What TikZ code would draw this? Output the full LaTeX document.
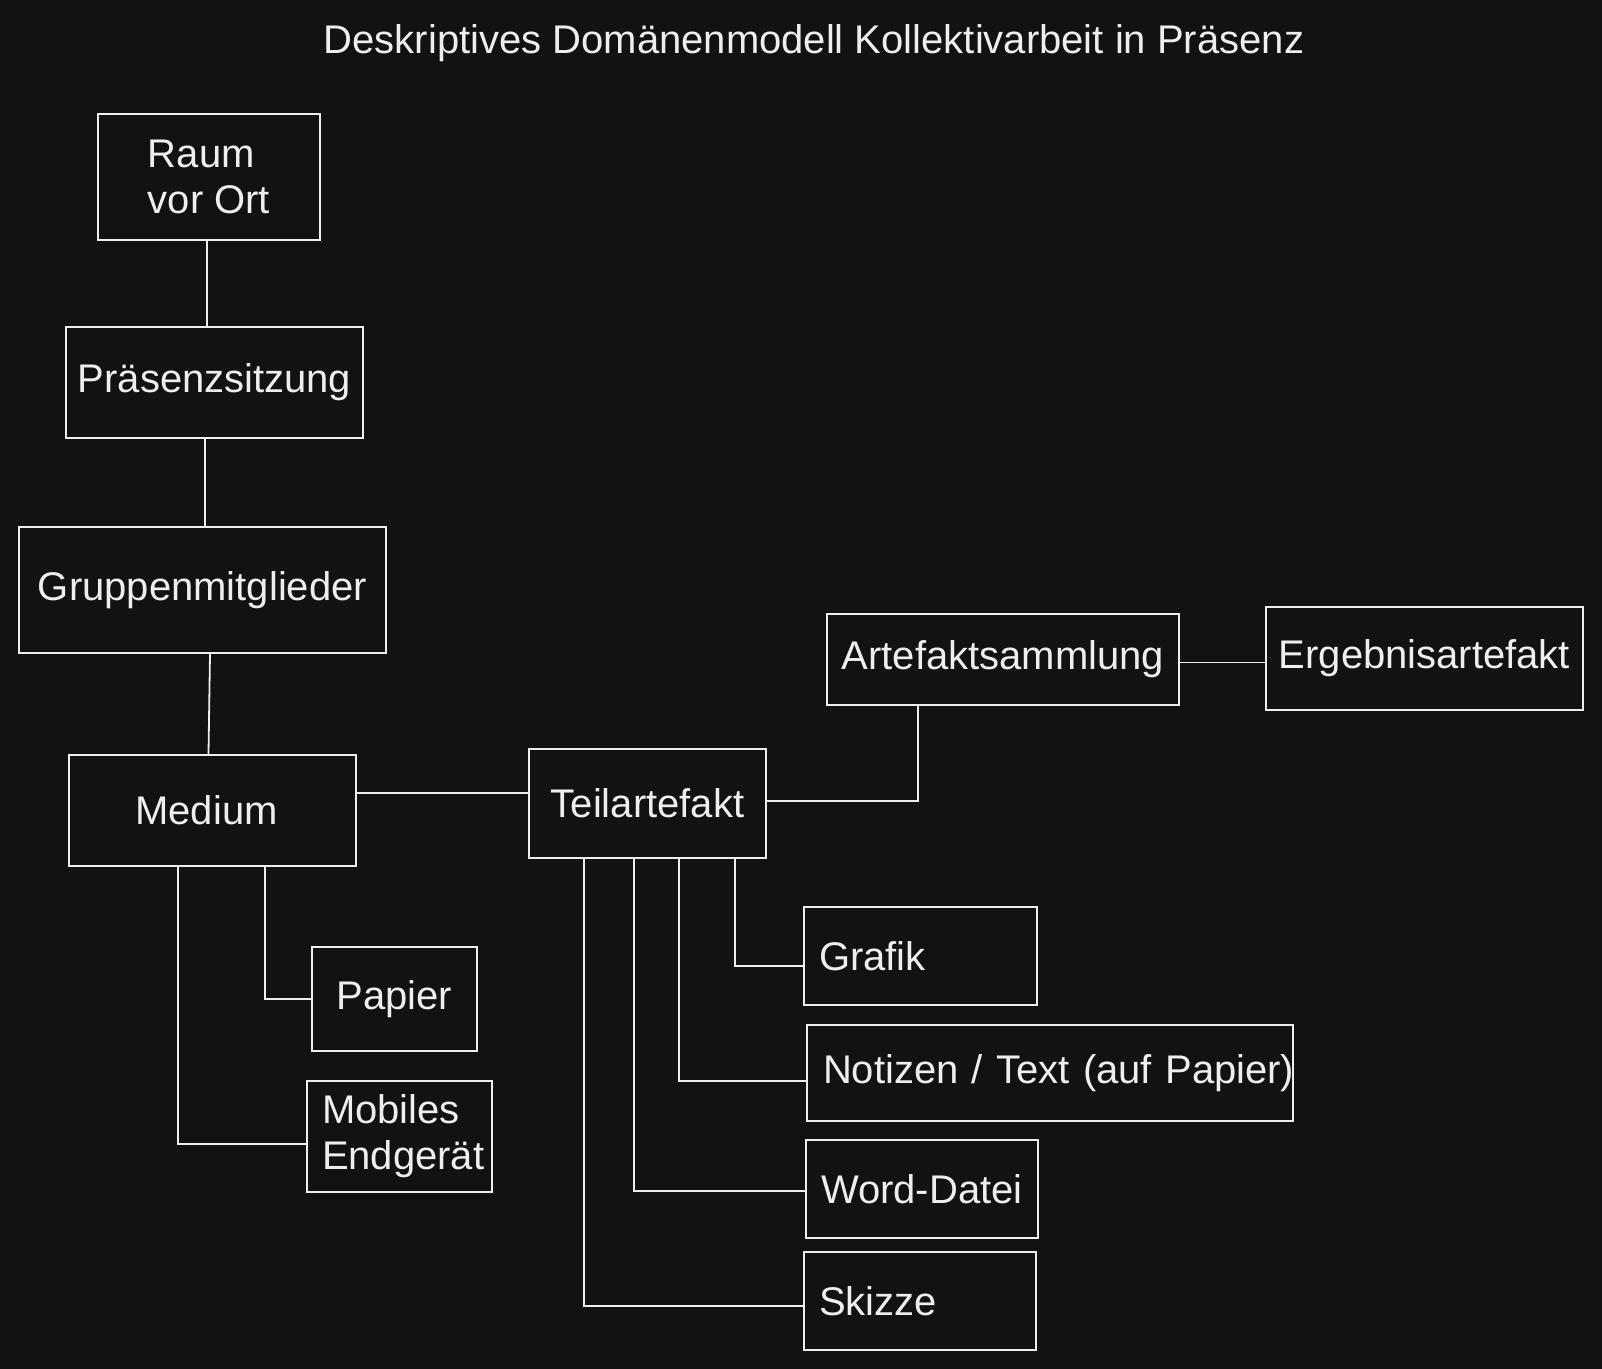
\documentclass[tikz,border=0pt]{standalone}
\usepackage{fontspec}
\setmainfont{Liberation Sans}
\definecolor{bg}{HTML}{121212}
\definecolor{fg}{HTML}{EEEEEE}
\begin{document}
\begin{tikzpicture}[x=0.5pt,y=-0.5pt,
  box/.style={draw=fg, line width=1pt, text=fg, font=\fontsize{20pt}{23pt}\selectfont, inner sep=0pt, align=center},
  lbox/.style={box, align=left, inner xsep=7.5pt},
  conn/.style={draw=fg, line width=0.9pt},
  ttl/.style={text=fg, font=\fontsize{20pt}{24pt}\selectfont, inner sep=0pt}]
\fill[bg] (0,0) rectangle (1602,1369);
\useasboundingbox (0,0) rectangle (1602,1369);
\node[ttl] (title) at (814,43) {Deskriptives Domänenmodell Kollektivarbeit in Präsenz};
\node[box, align=left, minimum width=111pt, minimum height=63pt] (raum) at (209,177) {Raum\\vor Ort};
\node[box, minimum width=148.5pt, minimum height=55.5pt] (praes) at (214.5,382.5) {Präsenzsitzung};
\node[box, minimum width=183.5pt, minimum height=63pt] (grup) at (202.5,590) {Gruppenmitglieder};
\node[box, minimum width=143.5pt, minimum height=55.5pt] (med) at (212.5,810.5) {Medium\hspace*{6pt}};
\node[box, minimum width=82.5pt, minimum height=52pt] (pap) at (394.5,999) {Papier};
\node[lbox, text width=77.5pt, minimum height=55.5pt] (mob) at (399.5,1136.5) {Mobiles\\Endgerät};
\node[box, minimum width=118.5pt, minimum height=54.5pt] (teil) at (647.5,803.5) {Teilartefakt};
\node[box, minimum width=176pt, minimum height=45.5pt] (art) at (1003,659.5) {Artefaktsammlung};
\node[box, minimum width=158.5pt, minimum height=51.5pt] (erg) at (1424.5,658.5) {Ergebnisartefakt};
\node[lbox, text width=101.5pt, minimum height=49pt] (graf) at (920.5,956) {Grafik};
\node[lbox, inner xsep=8pt, text width=227pt, minimum height=48pt] (noti) at (1050,1073) {\mbox{Notizen / Text (auf Papier)}};
\node[lbox, text width=101pt, minimum height=49pt] (word) at (922,1189) {Word-Datei};
\node[lbox, text width=101pt, minimum height=49pt] (skiz) at (920,1301) {Skizze};
% connectors
\draw[conn] ([xshift=-1pt]raum.south) -- ([xshift=-1pt]raum.south |- praes.north);
\draw[conn] ([xshift=-4.75pt]praes.south) -- ([xshift=-4.75pt]praes.south |- grup.north);
\draw[conn] ([xshift=3.75pt]grup.south) -- ([xshift=-2pt]med.north);
\draw[conn] ([yshift=8.75pt]med.east) -- ([yshift=8.75pt]med.east -| teil.west);
\draw[conn] ([yshift=1.25pt]teil.east) -| ([xshift=-42.5pt]art.south);
\draw[conn] ([yshift=-1.5pt]art.east) -- ([yshift=-1.5pt]art.east -| erg.west);
\draw[conn] ([xshift=26.25pt]med.south) |- (pap.west);
\draw[conn] ([xshift=-17.25pt]med.south) |- ([yshift=-3.75pt]mob.west);
\draw[conn] ([xshift=43.75pt]teil.south) |- ([yshift=-5pt]graf.west);
\draw[conn] ([xshift=15.75pt]teil.south) |- ([yshift=-4pt]noti.west);
\draw[conn] ([xshift=-6.75pt]teil.south) |- ([yshift=-1pt]word.west);
\draw[conn] ([xshift=-31.75pt]teil.south) |- ([yshift=-2.5pt]skiz.west);
\end{tikzpicture}
\end{document}
